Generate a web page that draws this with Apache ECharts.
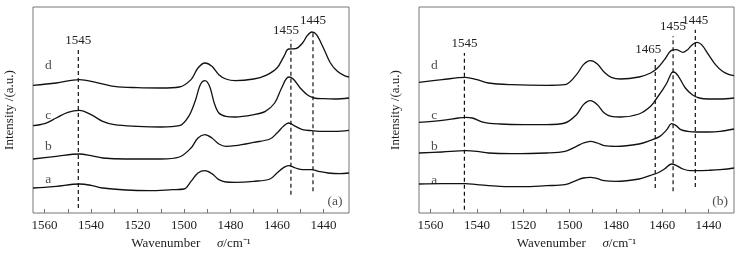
<!DOCTYPE html>
<html lang="en">
<head>
	<meta charset="UTF-8">
	<title>IR spectra</title>
	<style>
	body, div {
		margin: 0;
		padding: 0;
	}
	#echart {
		width: 756px;
		height: 258px;
		background: #fff;
	}
	</style>
</head>
<body>
	<div id="echart"></div>

	<script src="https://cdn.jsdelivr.net/npm/echarts@6/dist/echarts.min.js"></script>

	<script>
// wavenumber / intensity (a.u.) pairs
var leftD = [[1565,383],[1555,390],[1545,400],[1538,392],[1530,380],[1520,376],[1510,375],[1502,378],[1497,400],[1494,435],[1491,450],[1488,440],[1485,415],[1482,402],[1478,397],[1470,402],[1465,412],[1460,435],[1457,470],[1455,492],[1452,493],[1449,510],[1447,532],[1445,543],[1443,535],[1440,495],[1437,450],[1434,425],[1431,412],[1429,408]];
var leftC = [[1565,262],[1560,268],[1555,285],[1550,302],[1545,308],[1540,295],[1535,275],[1530,265],[1520,260],[1510,258],[1502,262],[1498,290],[1495,340],[1493,385],[1491,397],[1489,380],[1487,330],[1485,300],[1482,290],[1478,288],[1470,295],[1465,305],[1461,330],[1458,375],[1455,408],[1453,402],[1450,375],[1447,355],[1444,345],[1440,343],[1435,342],[1429,345]];
var leftB = [[1565,162],[1555,170],[1545,177],[1540,172],[1535,165],[1525,162],[1510,162],[1502,168],[1497,195],[1494,225],[1491,235],[1488,225],[1485,207],[1482,200],[1478,202],[1470,212],[1463,222],[1460,240],[1457,262],[1455,270],[1452,260],[1449,250],[1445,247],[1440,245],[1435,245],[1429,248]];
var leftA = [[1565,75],[1560,77],[1555,80],[1545,87],[1540,83],[1535,75],[1525,69],[1515,67],[1505,70],[1500,72],[1497,95],[1494,120],[1491,127],[1488,118],[1485,100],[1482,93],[1478,92],[1470,95],[1463,102],[1460,120],[1457,137],[1455,142],[1452,135],[1449,130],[1445,130],[1442,125],[1438,120],[1433,118],[1429,120]];

var rightD = [[1565,392],[1555,400],[1545,407],[1540,400],[1535,390],[1525,385],[1510,383],[1502,385],[1497,415],[1494,445],[1491,457],[1488,447],[1485,422],[1482,407],[1478,402],[1470,408],[1465,420],[1462,435],[1459,460],[1456,488],[1454,490],[1451,482],[1449,490],[1447,505],[1445,512],[1443,505],[1440,475],[1437,445],[1434,425],[1431,415],[1429,412]];
var rightC = [[1565,272],[1555,278],[1548,285],[1545,287],[1542,285],[1537,272],[1530,267],[1520,265],[1510,265],[1502,270],[1497,295],[1494,325],[1491,337],[1488,325],[1485,300],[1482,290],[1478,288],[1470,297],[1465,320],[1462,348],[1460,368],[1458,390],[1456,420],[1455,423],[1453,410],[1450,375],[1447,355],[1444,345],[1440,342],[1435,342],[1429,345]];
var rightB = [[1565,180],[1555,183],[1545,187],[1540,185],[1535,180],[1525,178],[1510,180],[1502,185],[1497,200],[1494,210],[1491,215],[1488,210],[1485,202],[1480,200],[1470,207],[1465,218],[1461,230],[1458,250],[1456,268],[1454,262],[1452,250],[1449,245],[1445,243],[1440,243],[1435,245],[1429,252]];
var rightA = [[1565,87],[1555,88],[1545,88],[1540,85],[1530,80],[1520,79],[1510,82],[1502,85],[1497,98],[1494,105],[1491,107],[1488,103],[1485,97],[1480,95],[1470,102],[1465,113],[1462,120],[1459,132],[1456,147],[1454,143],[1451,132],[1448,127],[1445,127],[1440,128],[1435,130],[1429,135]];

// curve names and where their letters sit
var curveNames = ['a', 'b', 'c', 'd'];
var leftLetterY = [100, 200, 292, 443];
var rightLetterY = [98, 200, 292, 443];
var letterX = 1558.4;

// dashed peak markers
var leftMarkX = [1545.5, 1454, 1444.5];
var leftMarkLow = [15, 55, 65];
var leftMarkHigh = [490, 520, 548];
var leftMarkText = ['1545', '1455', '1445'];
var rightMarkX = [1545.4, 1463, 1455.3, 1445.7];
var rightMarkLow = [10, 75, 65, 78];
var rightMarkHigh = [480, 462, 530, 550];
var rightMarkText = ['1545', '1465', '1455', '1445'];

var majorTicks = [1560, 1540, 1520, 1500, 1480, 1460, 1440];
var allTicks = [1560, 1550, 1540, 1530, 1520, 1510, 1500, 1490, 1480, 1470, 1460, 1450, 1440];
var panelTags = ['(a)', '(b)'];

var FONT = "'Liberation Serif', 'Times New Roman', serif";
var FRAME = '#777';

var myEchart = echarts.init(document.getElementById('echart'));

function xAxisFor(idx) {
	return {
		gridIndex: idx,
		type: 'value',
		inverse: true,
		min: 1429,
		max: 1565,
		splitLine: { show: false },
		axisLine: { show: false },
		axisTick: {
			inside: true,
			length: 4,
			customValues: allTicks,
			lineStyle: { color: FRAME }
		},
		axisLabel: {
			customValues: majorTicks,
			formatter: function (v) { return String(v); },
			margin: 6,
			color: '#222',
			fontFamily: FONT,
			fontSize: 13
		},
		name: '{w|Wavenumber}     {s|σ}{w|/cm⁻¹}',
		nameLocation: 'middle',
		nameGap: 23,
		nameTextStyle: {
			rich: {
				w: { fontFamily: FONT, fontSize: 13, color: '#222' },
				s: { fontFamily: FONT, fontSize: 13, fontStyle: 'italic', color: '#222' }
			}
		}
	};
}

function yAxisFor(idx) {
	return {
		gridIndex: idx,
		type: 'value',
		min: 0,
		max: 618,
		splitLine: { show: false },
		axisLine: { show: false },
		axisTick: { show: false },
		axisLabel: { show: false },
		name: 'Intensity /(a.u.)',
		nameLocation: 'middle',
		nameGap: 17,
		nameTextStyle: { fontFamily: FONT, fontSize: 13, color: '#222' }
	};
}

var series = [];

function addCurves(idx, curves) {
	curves.forEach(function (c) {
		series.push({
			type: 'line',
			xAxisIndex: idx,
			yAxisIndex: idx,
			data: c,
			smooth: 0.35,
			showSymbol: false,
			silent: true,
			lineStyle: { color: '#111', width: 1.3 }
		});
	});
}

function addMarks(idx, xs, lows, highs, texts, dx) {
	xs.forEach(function (x, i) {
		series.push({
			type: 'line',
			xAxisIndex: idx,
			yAxisIndex: idx,
			data: [[x, lows[i]], { value: [x, highs[i]], label: {
				show: true, position: 'top', distance: 3, offset: [dx[i], 0],
				formatter: texts[i], fontFamily: FONT, fontSize: 13, color: '#222'
			} }],
			showSymbol: true,
			symbolSize: 0,
			silent: true,
			lineStyle: { color: '#111', width: 1.2, type: [4, 3] }
		});
	});
}

function addLetters(idx, ys, tag) {
	series.push({
		type: 'scatter',
		xAxisIndex: idx,
		yAxisIndex: idx,
		symbolSize: 0,
		silent: true,
		data: ys.map(function (y, i) { return { name: curveNames[i], value: [letterX, y] }; })
			.concat([{ name: tag, value: [1435, 35] }]),
		label: {
			show: true,
			position: 'inside',
			formatter: '{b}',
			fontFamily: FONT,
			fontSize: 13.5,
			color: '#222'
		}
	});
}

addCurves(0, [leftA, leftB, leftC, leftD]);
addCurves(1, [rightA, rightB, rightC, rightD]);
addMarks(0, leftMarkX, leftMarkLow, leftMarkHigh, leftMarkText, [0, -5, 0]);
addMarks(1, rightMarkX, rightMarkLow, rightMarkHigh, rightMarkText, [0, -7, 0, 0]);
addLetters(0, leftLetterY, panelTags[0]);
addLetters(1, rightLetterY, panelTags[1]);

option = {
	animation: false,
	backgroundColor: '#fff',
	grid: [
		{ show: true, left: 33, top: 7, width: 316, height: 206, borderColor: FRAME, borderWidth: 1 },
		{ show: true, left: 419, top: 7, width: 315, height: 206, borderColor: FRAME, borderWidth: 1 }
	],
	xAxis: [xAxisFor(0), xAxisFor(1)],
	yAxis: [yAxisFor(0), yAxisFor(1)],
	series: series
};

myEchart.setOption(option);
	</script>
</body>
</html>
